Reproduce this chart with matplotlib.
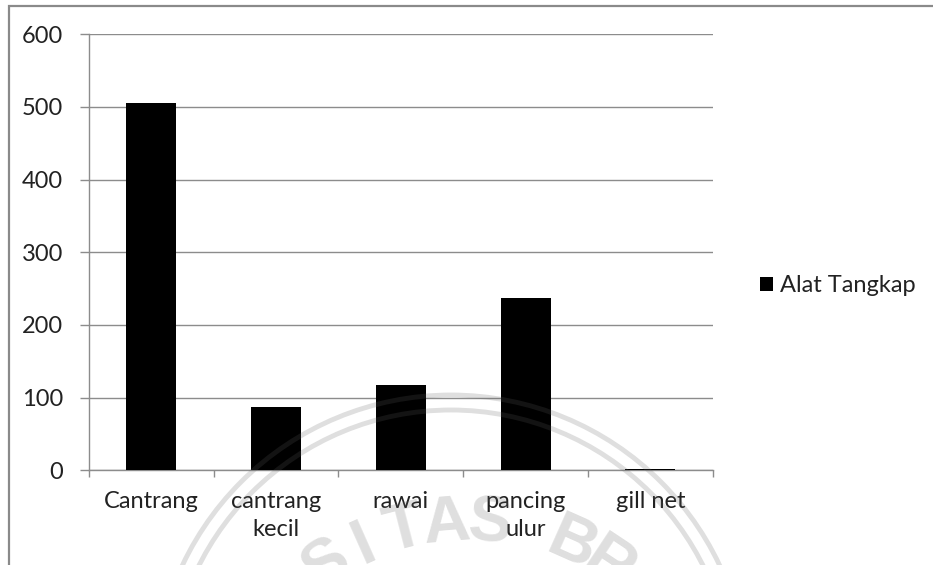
import numpy as np
import matplotlib.pyplot as plt
from matplotlib.patches import Circle

# Jumlah per jenis alat tangkap
kategori = ['Cantrang', 'cantrang\nkecil', 'rawai', 'pancing\nulur', 'gill net']
jumlah = [506, 87, 118, 237, 2]
yticks = [0, 100, 200, 300, 400, 500, 600]
seri = 'Alat Tangkap'

plt.rcParams['font.family'] = ['Lato', 'DejaVu Sans']
W, H = 933, 565
fig = plt.figure(figsize=(W / 100, H / 100), dpi=100)
fig.patch.set_facecolor('white')

ax = fig.add_axes([89 / W, 1 - 470.3 / H, (712.7 - 89) / W, (470.3 - 34.3) / H])
x = np.arange(len(kategori))
ax.bar(x, jumlah, width=0.4, color='black', label=seri, zorder=3)

ax.set_xlim(-0.5, len(kategori) - 0.5)
ax.set_ylim(0, 600)
ax.set_yticks(yticks)
ax.yaxis.grid(True, color='#8c8c8c', linewidth=1.0, zorder=0)
ax.set_xticks(x)
ax.set_xticklabels(kategori, linespacing=1.4)
ax.set_xticks(np.arange(len(kategori) + 1) - 0.5, minor=True)
ax.tick_params(axis='x', which='major', length=0, pad=15, labelsize=17, labelcolor='#222222')
ax.tick_params(axis='x', which='minor', length=5, width=1, color='#8c8c8c')
ax.tick_params(axis='y', length=6.5, width=1, color='#8c8c8c', pad=12,
               labelsize=17, labelcolor='#222222')
for s in ['top', 'right']:
    ax.spines[s].set_visible(False)
for s in ['left', 'bottom']:
    ax.spines[s].set_color('#8c8c8c')
    ax.spines[s].set_linewidth(1.0)

ax.legend(loc='center left', bbox_to_anchor=(760 / W, 1 - 286 / H),
          bbox_transform=fig.transFigure, frameon=False, fontsize=17,
          handlelength=0.56, handleheight=0.56, handletextpad=0.3,
          borderpad=0, borderaxespad=0, labelcolor='#222222')

# lapisan atas: bingkai dan tanda air
top = fig.add_axes([0, 0, 1, 1], zorder=10)
top.set_xlim(0, W)
top.set_ylim(H, 0)
top.axis('off')
top.patch.set_alpha(0)
top.plot([8.5, 8.5, W], [H, 6, 6], color='#8a8a8a', linewidth=1.6,
         solid_capstyle='butt', solid_joinstyle='miter')

wm = dict(color='#606060', alpha=0.2)
for r in [297, 282]:
    top.add_patch(Circle((451, 692), r, fill=False, linewidth=3.5, **wm))

teks = 'UNIVERSITAS BRAWIJAYA'
cx, cy, R = 468, 778, 238
step = 9.6
for i, ch in enumerate(teks):
    th = np.radians((i - 9.5) * step)
    px, py = cx + R * np.sin(th), cy - R * np.cos(th)
    if ch == ' ' or py > H + 38 or px < 0:
        continue
    top.text(px, py, ch, fontsize=47, fontweight='bold', family='Liberation Sans',
             ha='center', va='baseline', rotation=-np.degrees(th),
             rotation_mode='anchor', **wm)

plt.savefig('out.png', dpi=100)
